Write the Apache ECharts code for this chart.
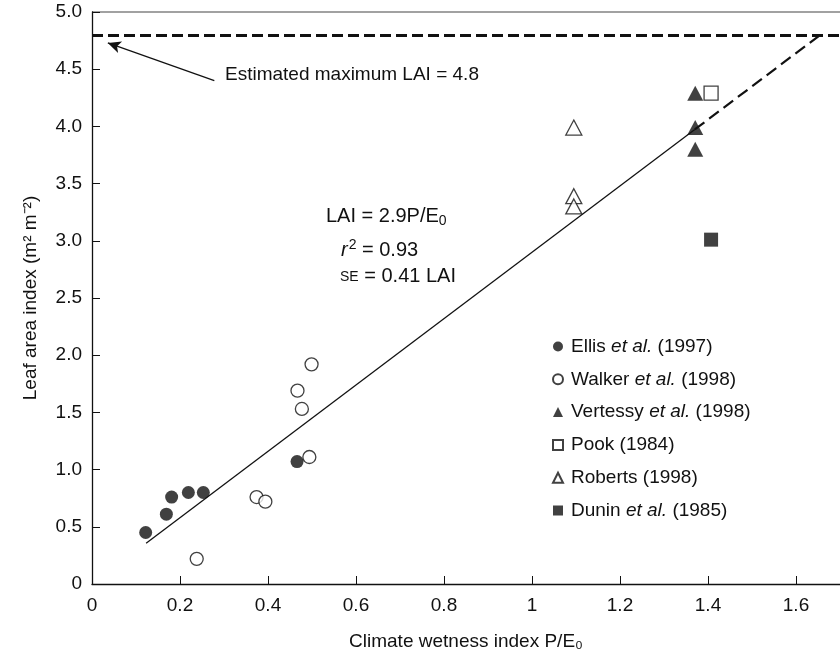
<!DOCTYPE html>
<html>
<head>
<meta charset="utf-8">
<script src="https://cdn.jsdelivr.net/npm/echarts@6/dist/echarts.min.js"></script>
<style>
  html, body { margin: 0; padding: 0; background: #fff; }
  #chart { width: 840px; height: 661px; }
</style>
</head>
<body>
<div id="chart"></div>
<script>
// data
const ellis = [[0.122, 0.45], [0.169, 0.61], [0.181, 0.76], [0.219, 0.80], [0.253, 0.80], [0.466, 1.07]];
const walker = [[0.238, 0.22], [0.374, 0.76], [0.394, 0.72], [0.467, 1.69], [0.477, 1.53], [0.499, 1.92], [0.494, 1.11]];
const vertessy = [[1.371, 4.29], [1.371, 3.99], [1.371, 3.80]];
const pook = [[1.407, 4.29]];
const roberts = [[1.095, 3.99], [1.095, 3.39], [1.095, 3.30]];
const dunin = [[1.407, 3.01]];

const slope = 2.9;
const maxLAI = 4.8;
const fitSolidX = [0.123, 1.37];
const fitDashX = [1.37, maxLAI / slope];
const arrowFrom = [0.278, 4.40];
const arrowTo = [0.036, 4.73];

const xTicks = ['0', '0.2', '0.4', '0.6', '0.8', '1', '1.2', '1.4', '1.6'];
const yTicks = ['0', '0.5', '1.0', '1.5', '2.0', '2.5', '3.0', '3.5', '4.0', '4.5', '5.0'];

const FONT = '"Liberation Sans", Arial, sans-serif';
const INK = '#111';

const chart = echarts.init(document.getElementById('chart'));

const filled = { color: INK, borderColor: INK, borderWidth: 0 };
const open = { color: '#fff', borderColor: INK, borderWidth: 1.3 };

function scatter(name, data, symbol, size, style) {
  return {
    name, type: 'scatter', data, symbol, symbolSize: size,
    itemStyle: style, z: 5, animation: false
  };
}

chart.setOption({
  animation: false,
  grid: { left: 92, right: 0, top: 12, bottom: 77, show: false },
  xAxis: {
    type: 'value', min: 0, max: 1.7, interval: 0.2,
    name: 'Climate wetness index P/E\u2080',
    nameLocation: 'middle', nameGap: 48,
    nameTextStyle: { fontFamily: FONT, fontSize: 19, color: INK },
    axisLine: { lineStyle: { color: INK, width: 1.3 } },
    axisTick: { inside: true, length: 8, lineStyle: { color: INK } },
    axisLabel: {
      margin: 12, fontFamily: FONT, fontSize: 19, color: INK, showMaxLabel: false,
      formatter: v => xTicks[Math.round(v / 0.2)] || ''
    },
    splitLine: { show: false }
  },
  yAxis: {
    type: 'value', min: 0, max: 5, interval: 0.5,
    name: 'Leaf area index (m\u00b2 m\u207b\u00b2)',
    nameLocation: 'middle', nameGap: 52,
    nameTextStyle: { fontFamily: FONT, fontSize: 19, color: INK },
    axisLine: { lineStyle: { color: INK, width: 1.3 } },
    axisTick: { inside: true, length: 8, lineStyle: { color: INK } },
    axisLabel: {
      margin: 10, fontFamily: FONT, fontSize: 19, color: INK,
      formatter: v => yTicks[Math.round(v / 0.5)]
    },
    splitLine: { show: false }
  },
  legend: {
    orient: 'vertical', left: 552, top: 337, padding: 0,
    itemWidth: 10, itemHeight: 10, itemGap: 13.8,
    data: ['Ellis et al. (1997)', 'Walker et al. (1998)', 'Vertessy et al. (1998)',
           'Pook (1984)', 'Roberts (1998)', 'Dunin et al. (1985)'],
    formatter: n => n.replace('et al.', '{i|et al.}'),
    textStyle: {
      fontFamily: FONT, fontSize: 19, color: INK, lineHeight: 18, padding: [0, 0, 0, 3],
      rich: { i: { fontFamily: FONT, fontSize: 19, color: INK, fontStyle: 'italic' } }
    },
    selectedMode: false
  },
  series: [
    {
      type: 'line', data: fitSolidX.map(x => [x, slope * x]), symbol: 'none',
      lineStyle: { color: INK, width: 1.3 }, z: 3, silent: true,
      markLine: {
        silent: true, symbol: 'none', label: { show: false },
        data: [
          { yAxis: maxLAI, lineStyle: { color: INK, width: 3, type: [11, 5] } },
          [
            { coord: arrowFrom, symbol: 'none' },
            { coord: arrowTo, symbol: 'arrow', symbolSize: [9, 13] }
          ]
        ],
        lineStyle: { color: INK, width: 1.3, type: 'solid' }
      }
    },
    {
      type: 'line', data: fitDashX.map(x => [x, slope * x]), symbol: 'none',
      lineStyle: { color: INK, width: 2.2, type: [12, 6] }, z: 3, silent: true
    },
    scatter('Ellis et al. (1997)', ellis, 'circle', 13, filled),
    scatter('Walker et al. (1998)', walker, 'circle', 13, open),
    scatter('Vertessy et al. (1998)', vertessy, 'triangle', [16, 15], filled),
    scatter('Pook (1984)', pook, 'rect', 14, open),
    scatter('Roberts (1998)', roberts, 'triangle', [16, 15], open),
    scatter('Dunin et al. (1985)', dunin, 'rect', 14, filled)
  ],
  graphic: [
    // top frame line of the plot box
    { type: 'line', shape: { x1: 92, y1: 12, x2: 840, y2: 12 }, style: { stroke: '#444', lineWidth: 1.2 }, silent: true },
    {
      type: 'text', x: 225, y: 75,
      style: { text: 'Estimated maximum LAI = 4.8', font: '19px ' + FONT, fill: INK, verticalAlign: 'middle' }
    },
    {
      type: 'text', x: 326, y: 216,
      style: {
        text: 'LAI = 2.9P/E{sub|0}', font: '20px ' + FONT, fill: INK, verticalAlign: 'middle',
        rich: { sub: { font: '14px ' + FONT, fill: INK, padding: [11, 0, 0, 0] } }
      }
    },
    {
      type: 'text', x: 341, y: 250,
      style: {
        text: '{i|r}{sup|2} = 0.93', font: '20px ' + FONT, fill: INK, verticalAlign: 'middle',
        rich: {
          i: { font: 'italic 20px ' + FONT, fill: INK },
          sup: { font: '14px ' + FONT, fill: INK, padding: [0, 0, 10, 1] }
        }
      }
    },
    {
      type: 'text', x: 340, y: 276,
      style: {
        text: '{sc|SE} = 0.41 LAI', font: '20px ' + FONT, fill: INK, verticalAlign: 'middle',
        rich: { sc: { font: '14px ' + FONT, fill: INK, padding: [3, 0, 0, 0] } }
      }
    }
  ]
});
</script>
</body>
</html>
